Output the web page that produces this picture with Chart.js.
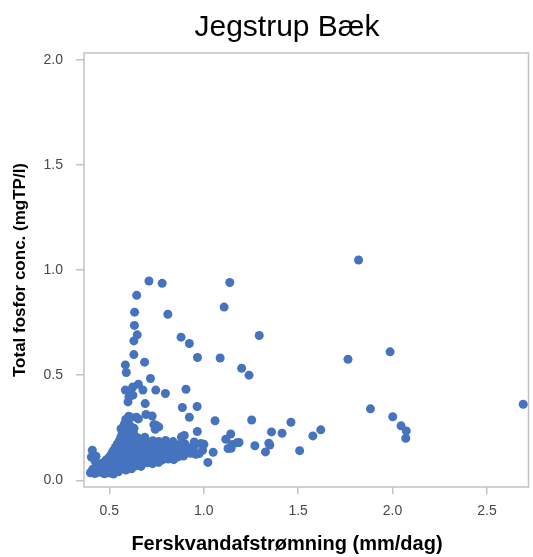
<!DOCTYPE html>
<html>
<head>
<meta charset="utf-8">
<script src="https://cdn.jsdelivr.net/npm/chart.js@4.4.1/dist/chart.umd.min.js"></script>
<style>
  body { margin: 0; background: #fff; overflow: hidden; }
  #wrap { position: relative; width: 533px; height: 557px; }
  .label { position: absolute; left: 87px; width: 400px; text-align: center; color: #000;
           font-family: "Liberation Sans", Arial, sans-serif; white-space: nowrap; }
  #title { top: 11px; font-size: 30px; line-height: 30px; }
  #xtitle { top: 533px; font-size: 20px; line-height: 20px; font-weight: bold; }
</style>
</head>
<body>
<div id="wrap">
  <canvas id="scatter" width="533" height="557"></canvas>
  <div id="title" class="label">Jegstrup Bæk</div>
  <div id="xtitle" class="label">Ferskvandafstrømning (mm/dag)</div>
</div>
<script>
// [afstrømning mm/dag, total P mgTP/l]
const highFlowSamples = [
  [1.82,1.048],[1.138,0.941],[1.108,0.824],[1.294,0.689],[1.201,0.533],[1.24,0.50],
  [1.764,0.576],[1.987,0.611],[0.967,0.584],[1.087,0.582],[2.692,0.362],[1.883,0.34],
  [2.001,0.302],[2.045,0.259],[2.073,0.235],[2.07,0.20],[1.06,0.283],[1.254,0.287],
  [1.462,0.276],[1.62,0.24],[1.578,0.211],[1.359,0.23],[1.415,0.224],[1.345,0.176],
  [1.35,0.168],[1.271,0.164],[1.327,0.135],[1.508,0.141],[1.187,0.18],[0.966,0.232],
  [1.143,0.22],[1.117,0.195],[1.15,0.17],[1.175,0.178],[1.145,0.152],[1.129,0.151],
  [1.001,0.171],[0.994,0.143],[0.976,0.127],[1.05,0.133],[1.022,0.085],[0.95,0.182],
  [0.985,0.175],[0.897,0.213],[0.882,0.206]
];

const upperSamples = [
  [0.71,0.948],[0.78,0.937],[0.645,0.88],[0.634,0.80],[0.81,0.79],[0.633,0.737],
  [0.648,0.692],[0.63,0.663],[0.88,0.681],[0.924,0.651],[0.63,0.598],[0.687,0.562],
  [0.585,0.549],[0.59,0.513],[0.718,0.484],[0.654,0.457],[0.624,0.444],[0.585,0.429],
  [0.61,0.425],[0.625,0.405],[0.604,0.397],[0.599,0.373],[0.678,0.429],[0.746,0.429],
  [0.797,0.413],[0.906,0.433],[0.69,0.365],[0.887,0.346],[0.965,0.351],[0.924,0.30],
  [0.694,0.313],[0.727,0.306],[0.654,0.292],[0.603,0.305],[0.615,0.299],[0.587,0.289],
  [0.643,0.30],[0.736,0.265],[0.762,0.254],[0.743,0.243],[0.748,0.262]
];

const cloudSamples = [
  [0.400,0.036],[0.424,0.032],[0.448,0.038],[0.474,0.031],[0.498,0.035],[0.522,0.030],[0.548,0.040],
  [0.412,0.052],[0.441,0.048],[0.468,0.054],[0.497,0.050],[0.529,0.047],[0.558,0.053],[0.588,0.049],[0.618,0.055],
  [0.432,0.066],[0.458,0.069],[0.489,0.063],[0.518,0.067],[0.551,0.064],[0.579,0.068],[0.611,0.065],[0.641,0.069],[0.668,0.066],
  [0.462,0.081],[0.491,0.078],[0.521,0.083],[0.549,0.079],[0.582,0.082],[0.609,0.078],[0.638,0.084],[0.671,0.080],[0.702,0.083],[0.729,0.079],[0.761,0.085],
  [0.482,0.096],[0.512,0.093],[0.541,0.098],[0.569,0.094],[0.601,0.097],[0.629,0.093],[0.662,0.098],[0.691,0.095],[0.719,0.099],[0.752,0.094],[0.781,0.097],[0.812,0.101],[0.841,0.098],
  [0.499,0.110],[0.531,0.114],[0.561,0.108],[0.592,0.112],[0.619,0.109],[0.652,0.113],[0.681,0.110],[0.712,0.114],[0.739,0.108],[0.771,0.112],[0.802,0.109],[0.829,0.114],[0.861,0.111],[0.892,0.115],
  [0.512,0.126],[0.541,0.123],[0.572,0.128],[0.601,0.124],[0.632,0.127],[0.659,0.122],[0.691,0.128],[0.722,0.125],[0.749,0.129],[0.782,0.123],[0.809,0.127],[0.842,0.124],[0.871,0.129],[0.899,0.125],[0.931,0.128],[0.958,0.124],
  [0.521,0.141],[0.552,0.138],[0.579,0.143],[0.611,0.139],[0.639,0.142],[0.671,0.138],[0.699,0.144],[0.731,0.140],[0.761,0.137],[0.789,0.143],[0.821,0.139],[0.849,0.142],[0.881,0.138],[0.909,0.143],[0.942,0.140],
  [0.532,0.156],[0.559,0.153],[0.591,0.158],[0.619,0.154],[0.651,0.157],[0.679,0.152],[0.711,0.158],[0.739,0.155],[0.771,0.159],[0.799,0.153],[0.832,0.157],[0.861,0.154],[0.889,0.158],[0.921,0.155],[0.948,0.159],
  [0.541,0.171],[0.571,0.168],[0.602,0.173],[0.629,0.169],[0.661,0.172],[0.689,0.167],[0.722,0.173],[0.751,0.170],[0.779,0.174],[0.811,0.168],[0.842,0.172],[0.869,0.169],[0.901,0.173],
  [0.552,0.186],[0.581,0.183],[0.611,0.188],[0.641,0.184],[0.672,0.187],[0.699,0.182],[0.731,0.188],[0.762,0.185],[0.798,0.189],[0.838,0.184],
  [0.561,0.204],[0.589,0.201],[0.622,0.206],[0.651,0.202],[0.688,0.205],
  [0.568,0.224],[0.601,0.221],[0.628,0.226],
  [0.562,0.245],[0.598,0.243],[0.631,0.247],
  [0.579,0.266],[0.608,0.262],
  [0.41,0.143],[0.405,0.111],[0.43,0.114],[0.425,0.090]
];

const xTicks = [0.5, 1.0, 1.5, 2.0, 2.5];
const yTicks = [0.0, 0.5, 1.0, 1.5, 2.0];

const dotColor = 'rgb(70,115,190)';
const axisGray = '#c2c2c2';
const tickFont = { family: '"Liberation Sans", Arial, sans-serif', size: 14 };

const points = cloudSamples.concat(upperSamples, highFlowSamples)
  .map(([x, y]) => ({ x, y }));

// plot frame on all four sides
const frame = {
  id: 'frame',
  beforeDatasetsDraw(chart) {
    const { ctx, chartArea: a } = chart;
    ctx.save();
    ctx.strokeStyle = axisGray;
    ctx.lineWidth = 1.5;
    ctx.strokeRect(a.left, a.top, a.right - a.left, a.bottom - a.top);
    ctx.restore();
  }
};

new Chart(document.getElementById('scatter'), {
  type: 'scatter',
  data: {
    datasets: [{
      data: points,
      backgroundColor: dotColor,
      borderWidth: 0,
      pointRadius: 4.5,
      pointHoverRadius: 4.5
    }]
  },
  options: {
    responsive: false,
    animation: false,
    layout: { padding: { top: 53, right: 2, bottom: 0, left: 0 } },
    plugins: {
      legend: { display: false },
      title: { display: false },
      tooltip: { enabled: false }
    },
    scales: {
      x: {
        type: 'linear',
        min: 0.366,
        max: 2.72,
        afterFit: s => { s.height = 70; },
        afterBuildTicks: s => { s.ticks = xTicks.map(v => ({ value: v })); },
        border: { display: false },
        grid: { drawOnChartArea: false, drawTicks: true, tickLength: 7, color: axisGray, lineWidth: 1.5 },
        ticks: { color: '#484848', font: tickFont, padding: 9, maxRotation: 0, callback: v => v.toFixed(1) }
      },
      y: {
        type: 'linear',
        min: -0.032,
        max: 2.033,
        afterFit: s => { s.width = 84; },
        afterBuildTicks: s => { s.ticks = yTicks.map(v => ({ value: v })); },
        border: { display: false },
        grid: { drawOnChartArea: false, drawTicks: true, tickLength: 8, color: axisGray, lineWidth: 1.5 },
        ticks: { color: '#484848', font: tickFont, padding: 13, callback: v => v.toFixed(1) },
        title: {
          display: true,
          text: 'Total fosfor conc. (mgTP/l)',
          color: '#000',
          font: { family: '"Liberation Sans", Arial, sans-serif', size: 17, weight: 'bold' },
          padding: { top: 10, bottom: 0 }
        }
      }
    }
  },
  plugins: [frame]
});
</script>
</body>
</html>
